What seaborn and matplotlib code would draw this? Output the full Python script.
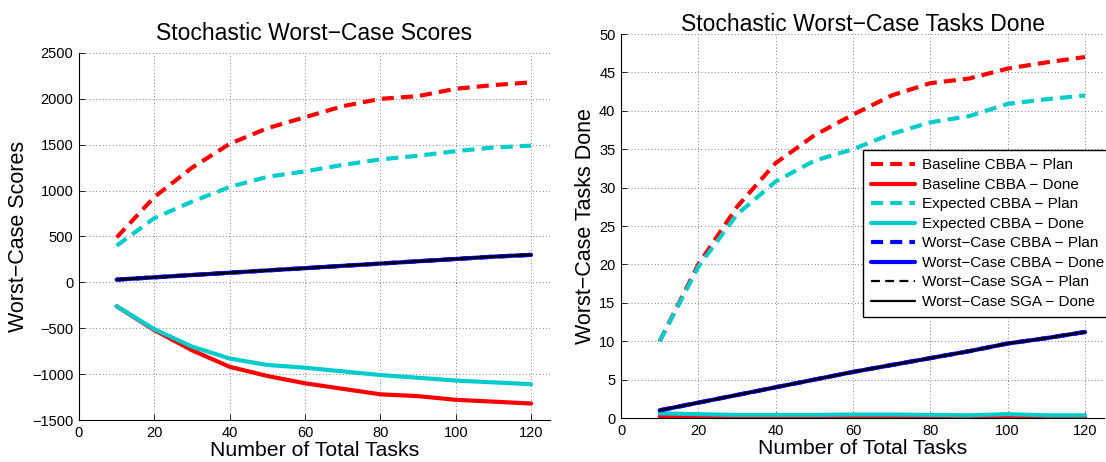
import matplotlib
matplotlib.use("Agg")
import matplotlib.pyplot as plt
import seaborn as sns
import numpy as np

tasks = [10, 20, 30, 40, 50, 60, 70, 80, 90, 100, 110, 120]

# Left: worst-case scores
score_base_plan = [490, 930, 1250, 1510, 1680, 1800, 1920, 2000, 2030, 2110, 2150, 2180]
score_base_done = [-260, -520, -740, -920, -1020, -1100, -1160, -1220, -1240, -1280, -1300, -1320]
score_exp_plan = [400, 700, 880, 1040, 1150, 1210, 1280, 1340, 1380, 1430, 1470, 1490]
score_exp_done = [-260, -510, -700, -830, -900, -930, -970, -1010, -1040, -1070, -1090, -1110]
score_wc_plan = [30, 55, 80, 105, 130, 155, 180, 205, 230, 255, 280, 300]
score_wc_done = [30, 55, 80, 105, 130, 155, 180, 205, 230, 255, 280, 300]
score_sga_plan = [30, 55, 80, 105, 130, 155, 180, 205, 230, 255, 280, 300]
score_sga_done = [30, 55, 80, 105, 130, 155, 180, 205, 230, 255, 280, 300]

# Right: worst-case tasks done
done_base_plan = [10, 20, 27.5, 33.2, 36.8, 39.5, 42, 43.6, 44.2, 45.5, 46.3, 47]
done_base_done = [0.2, 0.2, 0.1, 0.1, 0.1, 0.1, 0.1, 0.1, 0.1, 0.15, 0.1, 0.05]
done_exp_plan = [10, 19.7, 26.5, 30.8, 33.5, 35, 37, 38.5, 39.3, 40.9, 41.5, 42]
done_exp_done = [0.6, 0.5, 0.4, 0.4, 0.4, 0.45, 0.45, 0.4, 0.35, 0.5, 0.35, 0.35]
done_wc_plan = [1, 2, 3, 4, 5, 6, 6.9, 7.8, 8.7, 9.7, 10.4, 11.2]
done_wc_done = [1, 2, 3, 4, 5, 6, 6.9, 7.8, 8.7, 9.7, 10.4, 11.2]
done_sga_plan = [1, 2, 3, 4, 5, 6, 6.9, 7.8, 8.7, 9.7, 10.4, 11.2]
done_sga_done = [1, 2, 3, 4, 5, 6, 6.9, 7.8, 8.7, 9.7, 10.4, 11.2]

labels = ["Baseline CBBA \u2212 Plan", "Baseline CBBA \u2212 Done",
          "Expected CBBA \u2212 Plan", "Expected CBBA \u2212 Done",
          "Worst\u2212Case CBBA \u2212 Plan", "Worst\u2212Case CBBA \u2212 Done",
          "Worst\u2212Case SGA \u2212 Plan", "Worst\u2212Case SGA \u2212 Done"]

sns.set_style("white")
plt.rcParams['font.family'] = ['Liberation Sans', 'DejaVu Sans']
plt.rcParams['axes.unicode_minus'] = True
plt.rcParams['text.color'] = 'black'
plt.rcParams['axes.labelcolor'] = 'black'
plt.rcParams['xtick.color'] = 'black'
plt.rcParams['ytick.color'] = 'black'

RED = "#ff0000"
CYAN = "#00cccc"
BLUE = "#0000ff"
BLACK = "#000000"
DASH = (0, (2.9, 1.7))
styles = [
    (RED, DASH, 3.0), (RED, "-", 3.0),
    (CYAN, DASH, 3.0), (CYAN, "-", 3.0),
    (BLUE, DASH, 3.0), (BLUE, "-", 3.0),
    (BLACK, (0, (4.0, 2.4)), 1.6), (BLACK, "-", 1.6),
]

fig = plt.figure(figsize=(11.06, 4.62), dpi=100)
axL = fig.add_axes([0.0714, 0.0909, 0.4258, 0.7944])
axR = fig.add_axes([0.5615, 0.0952, 0.4370, 0.8312])

left_series = [score_base_plan, score_base_done, score_exp_plan, score_exp_done,
               score_wc_plan, score_wc_done, score_sga_plan, score_sga_done]
right_series = [done_base_plan, done_base_done, done_exp_plan, done_exp_done,
                done_wc_plan, done_wc_done, done_sga_plan, done_sga_done]

for ax, series in ((axL, left_series), (axR, right_series)):
    for vals, (c, ls, lw), lab in zip(series, styles, labels):
        sns.lineplot(x=tasks, y=vals, ax=ax, color=c, linestyle=ls, linewidth=lw,
                     label=lab, legend=False)
    ax.set_xlim(0, 125)
    ax.set_xticks([0, 20, 40, 60, 80, 100, 120])
    ax.grid(True, linestyle=(0, (1, 3)), color="#555555", linewidth=0.6)
    for s in ("top", "right"):
        ax.spines[s].set_visible(False)
    for s in ("left", "bottom"):
        ax.spines[s].set_color("black")
        ax.spines[s].set_linewidth(0.8)
    ax.tick_params(direction="in", length=4, width=0.6, labelsize=10.5, colors="black",
                   left=True, bottom=True, pad=4)
    ax.set_xlabel("Number of Total Tasks", fontsize=15.3, labelpad=1)

axL.set_ylim(-1500, 2500)
axL.set_yticks(np.arange(-1500, 2501, 500))
axL.set_yticklabels([f"{v}".replace("-", "\u2212") for v in range(-1500, 2501, 500)])
axL.set_ylabel("Worst\u2212Case Scores", fontsize=15.5, labelpad=2)
axL.set_title("Stochastic Worst\u2212Case Scores", fontsize=16.5, pad=9)

axR.set_ylim(0, 50)
axR.set_yticks(np.arange(0, 51, 5))
axR.set_ylabel("Worst\u2212Case Tasks Done", fontsize=15.5, labelpad=2)
axR.set_title("Stochastic Worst\u2212Case Tasks Done", fontsize=16.5, pad=2)

handles, labs = axR.get_legend_handles_labels()
leg = axR.legend(handles, labs, loc="upper left", bbox_to_anchor=(0.50, 0.698),
                 borderaxespad=0,
                 fontsize=11.0, frameon=True, fancybox=False, framealpha=1,
                 edgecolor="black", handlelength=2.9, labelspacing=0.36,
                 borderpad=0.55, handletextpad=0.45)
leg.get_frame().set_linewidth(1.0)

fig.savefig("out.png", dpi=100)
